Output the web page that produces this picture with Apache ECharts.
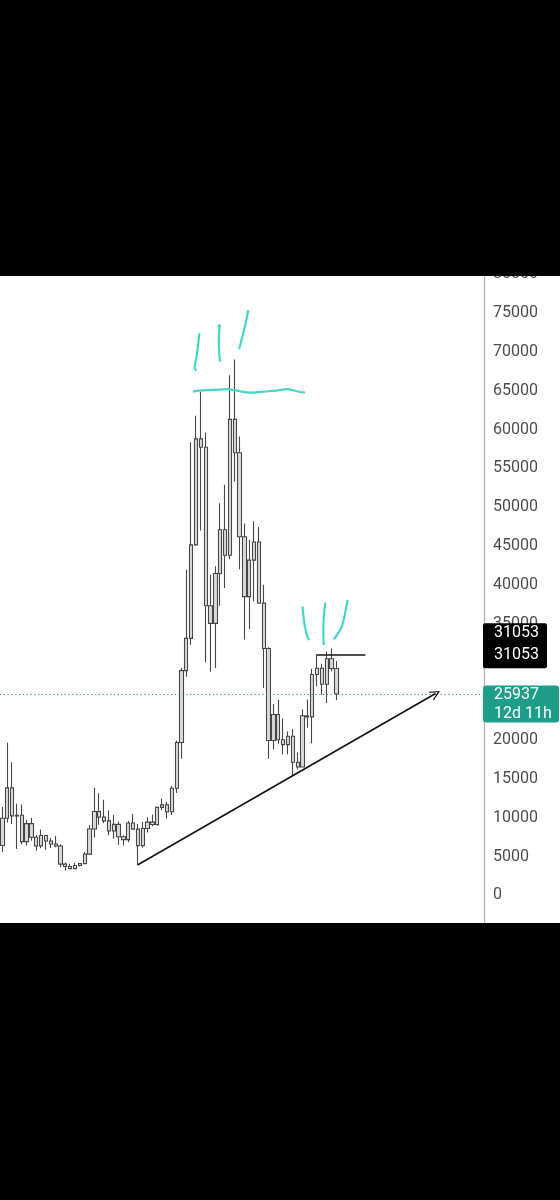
<!DOCTYPE html>
<html>
<head>
<meta charset="utf-8">
<script src="https://cdn.jsdelivr.net/npm/echarts@6/dist/echarts.min.js"></script>
<style>
  html, body { margin: 0; padding: 0; background: #000; }
  #chart { width: 560px; height: 1200px; }
</style>
</head>
<body>
<div id="chart"></div>
<script>
// monthly candles, Nov 2017 .. Aug 2023
const openP  = [6440, 9950, 13850, 10250, 10330, 6930, 9250, 7500, 6390, 7730, 7020, 6630, 6370, 4040,
  3740, 3460, 3850, 4100, 5320, 8560, 10820, 10090, 9600, 8300, 9150, 7560,
  7190, 9340, 8540, 6420, 8630, 9450, 9140, 11350, 11660, 10780, 13800, 19700,
  28950, 33100, 45150, 58800, 57720, 37300, 35040, 41460, 47100, 43800, 61300, 57000,
  46200, 38480, 43180, 45520, 37650, 31800, 19950, 23300, 20050, 19430, 20500, 17150,
  16550, 23150, 23000, 28450, 29250, 27200, 30480, 29230];
const highP  = [11400, 19650, 17150, 11800, 11700, 9750, 10000, 7780, 8500, 7760, 7400, 7680, 6600, 4240,
  4080, 4200, 4110, 5600, 9070, 13880, 13150, 12330, 10950, 10370, 9520, 7750,
  9580, 10500, 9190, 9460, 10070, 10390, 11440, 12480, 12070, 14100, 19950, 29300,
  41950, 58350, 61780, 64850, 59600, 41300, 42400, 50500, 52900, 67000, 69000, 59100,
  47900, 45800, 48200, 47450, 40000, 31950, 24650, 25200, 22800, 21100, 21450, 18400,
  23950, 25250, 29200, 31050, 29850, 31400, 31800, 30200];
const lowP   = [5600, 9400, 9200, 6000, 6600, 6430, 7050, 5750, 6070, 5880, 6100, 6200, 3650, 3200,
  3400, 3400, 3730, 4080, 5320, 7450, 9100, 9330, 7750, 7300, 6520, 6430,
  6860, 8450, 3850, 6150, 8110, 8900, 8970, 10960, 9880, 10370, 13200, 17600,
  28150, 32300, 45000, 47000, 30000, 28800, 29300, 37300, 39600, 43300, 53300, 42000,
  32950, 34300, 37900, 37700, 26700, 17600, 18800, 19550, 18150, 18200, 15500, 16250,
  16500, 21600, 19600, 26950, 25850, 24800, 28850, 25150];
const closeP = [9950, 13850, 10250, 10330, 6930, 9250, 7500, 6390, 7730, 7020, 6630, 6370, 4040, 3740,
  3460, 3850, 4100, 5320, 8560, 10820, 10090, 9600, 8300, 9150, 7560, 7190,
  9340, 8540, 6420, 8630, 9450, 9140, 11350, 11660, 10780, 13800, 19700, 28950,
  33100, 45150, 58800, 57720, 37300, 35040, 41460, 47100, 43800, 61300, 57000, 46200,
  38480, 43180, 45520, 37650, 31800, 19950, 23300, 20050, 19430, 20500, 17150, 16550,
  23150, 23000, 28450, 29250, 27200, 30480, 29230, 25950];

const slotCount = 100;          // visible monthly slots incl. empty future space
const yTicks = { min: -5000, max: 80000, step: 5000 };

const lastPrice = 25937;
const lastCountdown = '12d 11h';
const levelPrice = 31053;

// drawn annotations, [slot index, price]
const trendArrow = [[28, 3950], [89.5, 26000]];
const levelLine = [[65, levelPrice], [75, levelPrice]];
const scribbles = [
  [[40.7, 72400], [40.4, 70700], [40.0, 68960], [39.7, 67970], [40.1, 67580]],
  [[44.5, 73250], [44.95, 73470], [44.7, 71540], [44.95, 68740]],
  [[50.8, 75400], [50.1, 73250], [49.4, 71540], [48.9, 70340]],
  [[39.4, 64880], [40.8, 65010], [43.6, 65100], [46.3, 65190], [48.4, 65010], [51.2, 64750],
   [53.9, 64880], [56.7, 65010], [58.7, 65190], [60.8, 64930], [62.5, 64750]],
  [[62.0, 37190], [62.2, 35900], [62.5, 34620], [63.0, 33330], [63.4, 32900]],
  [[66.7, 37710], [66.4, 35900], [66.3, 34190], [66.4, 32260]],
  [[71.3, 38050], [70.8, 36340], [70.1, 34620], [68.9, 33330], [68.4, 32990]]
];

const months = [];
for (let i = 0; i < slotCount; i++) {
  const m = 10 + i;
  months.push((2017 + Math.floor(m / 12)) + '-' + String(m % 12 + 1).padStart(2, '0'));
}
const candles = openP.map((o, i) => [o, closeP[i], lowP[i], highP[i]]);

const chart = echarts.init(document.getElementById('chart'));
const font = 'Roboto';

const series = [{
  type: 'candlestick',
  data: candles,
  barWidth: 3.8,
  itemStyle: {
    color: '#dcdcdc', color0: '#dcdcdc',
    borderColor: '#474747', borderColor0: '#474747',
    borderWidth: 1.1
  },
  markLine: {
    silent: true,
    symbol: 'none',
    label: { show: false },
    lineStyle: { color: '#1e9e89', width: 1.2, type: [1.2, 2.6] },
    data: [{ yAxis: lastPrice }]
  }
}, {
  type: 'line',
  xAxisIndex: 1,
  data: [],
  markLine: {
    silent: true,
    label: { show: false },
    data: [
      [{ coord: trendArrow[0], symbol: 'none' },
       { coord: trendArrow[1], symbol: 'path://M0,10L5,0L10,10L8.7,10L5,2.6L1.3,10Z', symbolSize: 10 }],
      [{ coord: levelLine[0], symbol: 'none' }, { coord: levelLine[1], symbol: 'none' }]
    ],
    lineStyle: { color: '#111', width: 1.6, type: 'solid' }
  }
}];
scribbles.forEach(pts => series.push({
  type: 'line',
  xAxisIndex: 1,
  data: pts,
  smooth: 0.4,
  symbol: 'none',
  silent: true,
  lineStyle: { color: '#45d6c8', width: 2.2 }
}));

chart.setOption({
  animation: false,
  backgroundColor: '#fff',
  grid: { left: 0, right: 76, top: 274.2, bottom: 265.7, outerBoundsMode: 'none', containLabel: false },
  xAxis: [{
    type: 'category', data: months, boundaryGap: true,
    axisLine: { show: false }, axisTick: { show: false }, axisLabel: { show: false }, splitLine: { show: false }
  }, {
    type: 'value', min: -0.5, max: slotCount - 0.5, show: false
  }],
  yAxis: {
    type: 'value', position: 'right',
    min: yTicks.min, max: yTicks.max, interval: yTicks.step,
    axisLine: { show: true, onZero: false, lineStyle: { color: '#b5b5b5', width: 1.3 } },
    axisTick: { show: false },
    splitLine: { show: false },
    axisLabel: {
      margin: 9, color: '#4d4d4d', fontSize: 16, fontFamily: font,
      formatter: v => String(v)
    }
  },
  series: series
});

const yT = chart.convertToPixel({ yAxisIndex: 0 }, lastPrice);
const yH = chart.convertToPixel({ yAxisIndex: 0 }, levelPrice);
const txt = (x, y, s) => ({
  type: 'text', x: x, y: y, z: 60,
  style: { text: s, fill: '#fff', fontSize: 16, fontFamily: font, verticalAlign: 'middle' }
});
chart.setOption({
  graphic: [
    { type: 'rect', z: 59, shape: { x: 483, y: yH - 31, width: 64, height: 45, r: 2 }, style: { fill: '#000' } },
    txt(494, yH - 21, String(levelPrice)),
    txt(494, yH + 1, String(levelPrice)),
    { type: 'rect', z: 59, shape: { x: 483, y: yT - 8.5, width: 76, height: 37, r: 3 }, style: { fill: '#1e9e89' } },
    txt(494, yT + 0.5, String(lastPrice)),
    txt(494, yT + 19.5, lastCountdown),
    { type: 'rect', z: 100, shape: { x: 0, y: 0, width: 560, height: 276 }, style: { fill: '#000' } },
    { type: 'rect', z: 100, shape: { x: 0, y: 923, width: 560, height: 277 }, style: { fill: '#000' } }
  ]
});
</script>
</body>
</html>
